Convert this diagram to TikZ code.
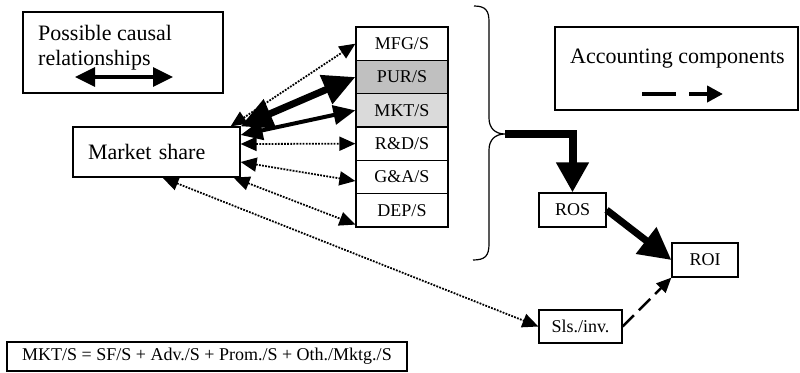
\documentclass[tikz,border=0pt]{standalone}
\usepackage{fontspec}
\setmainfont{Liberation Serif}
\usetikzlibrary{arrows.meta}
\definecolor{purgray}{HTML}{C0C0C0}
\definecolor{mktgray}{HTML}{DADADA}
\begin{document}
\begin{tikzpicture}[x=1pt,y=-1pt,
  big/.style={font=\fontsize{22}{24}\selectfont},
  small/.style={font=\fontsize{18}{20}\selectfont},
  box/.style={draw, line width=1.2pt, inner sep=0pt},
  ratio/.style={box, small, minimum width=92pt, minimum height=33.33pt},
  smallbox/.style={box, small},
  dotarrow/.style={line width=1.8pt, dash pattern=on 1.8pt off 1.3pt,
    {Triangle[length=16pt,width=14pt]}-{Triangle[length=16pt,width=14pt]}},
  heavyarrow/.style={line width=7pt,
    {Triangle[length=32pt,width=30pt]}-{Triangle[length=32pt,width=30pt]}},
  mediumarrow/.style={line width=4pt,
    {Triangle[length=22pt,width=19pt]}-{Triangle[length=22pt,width=19pt]}}]
\useasboundingbox (0,0) rectangle (800,372);

% legend: causal relationships
\node[box, minimum width=200pt, minimum height=81pt] (legcausal) at (123,52.5) {};
\node[big, anchor=base west, inner sep=0pt] (legcausalA) at (38,40) {Possible causal};
\node[big, anchor=base west, inner sep=0pt] (legcausalB) at (38,65) {relationships};
\coordinate (lca) at (75,77);
\coordinate (lcb) at (173,77);
\draw[line width=3.3pt, {Triangle[length=20pt,width=19pt]}-{Triangle[length=20pt,width=19pt]}] (lca) -- (lcb);

% legend: accounting components
\node[box, minimum width=243pt, minimum height=83pt] (legacc) at (676.5,68.5) {};
\node[big, anchor=base west, inner sep=0pt] (legaccT) at (570,63) {Accounting components};
\coordinate (laa) at (642,94);
\coordinate (lab) at (723,94);
\draw[line width=4pt, dash pattern=on 34pt off 13pt, -{Triangle[length=16pt,width=16pt]}] (laa) -- (lab);

% market share
\node[box, big, minimum width=167pt, minimum height=50pt, text width=137pt,
      inner xsep=15pt, align=left] (ms) at (156.5,152) {Market share};

% cost ratios
\node[ratio] (mfg) at (402,43.67) {MFG/S};
\node[ratio, fill=purgray] (pur) at (402,77) {PUR/S};
\node[ratio, fill=mktgray] (mkt) at (402,110.33) {MKT/S};
\node[ratio] (rd) at (402,143.67) {R\&D/S};
\node[ratio] (ga) at (402,177) {G\&A/S};
\node[ratio] (dep) at (402,210.33) {DEP/S};

% brace grouping the ratios
\coordinate (bracetip) at (505,134);
\draw[line width=1.2pt] (474,6) .. controls (486,6) and (489,11) .. (489,22) -- (489,118)
  .. controls (489,128) and (495,134) .. (bracetip)
  .. controls (495,134) and (489,140) .. (489,150) -- (489,244)
  .. controls (489,256) and (485,260) .. (473,260);

% returns
\node[smallbox, minimum width=67pt, minimum height=34pt] (ros) at (572.5,210) {ROS};
\node[smallbox, minimum width=66pt, minimum height=34pt] (roi) at (705,260) {ROI};
\node[smallbox, minimum width=83pt, minimum height=33pt] (sls) at (580.5,326.5) {Sls./inv.};

% formula
\node[box, small, minimum width=400pt, minimum height=29pt] (formula) at (207,356.5)
  {MKT/S = SF/S + Adv./S + Prom./S + Oth./Mktg./S};

% accounting links
\draw[line width=8pt, line join=miter, -{Triangle[length=30pt,width=31pt]}] (bracetip) -| (ros.north);
\draw[line width=7pt, -{Triangle[length=32pt,width=32pt]}] (ros.east) -- (roi.west);
\draw[line width=2.5pt, dash pattern=on 16pt off 7pt, -{Triangle[length=15pt,width=13pt]}] (sls.east) -- (roi.south west);

% causal links
\draw[dotarrow] ([xshift=-10pt]ms.north east) -- (mfg.west);
\draw[heavyarrow] (ms.north east) -- (pur.west);
\draw[mediumarrow] ([yshift=17pt]ms.east) -- (mkt.west);
\draw[dotarrow] ([yshift=8pt]ms.east) -- (rd.west);
\draw[dotarrow] ([yshift=-10pt]ms.east) -- ([yshift=-4pt]ga.west);
\draw[dotarrow] ([xshift=-7pt]ms.south east) -- ([yshift=3pt]dep.south west);
\draw[dotarrow] ([xshift=6pt]ms.south) -- (sls.west);
\end{tikzpicture}
\end{document}
